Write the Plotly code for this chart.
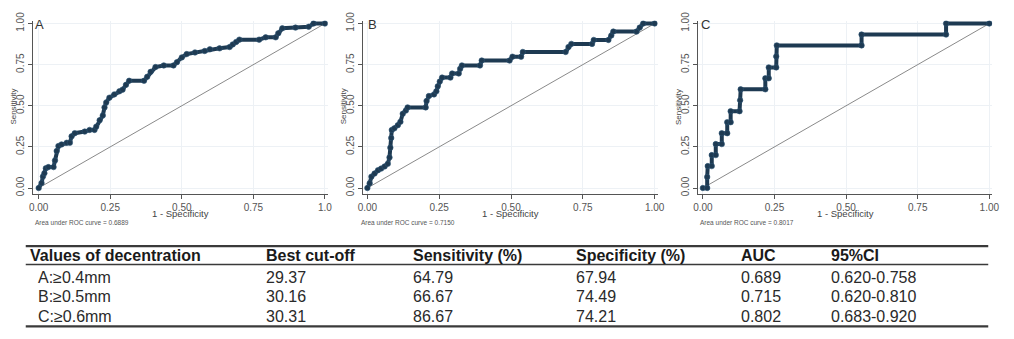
import plotly.graph_objects as go

# ---------------- data ----------------
A_fpr = [0, 0.01, 0.015, 0.02, 0.025, 0.034, 0.052, 0.057, 0.063, 0.069,
         0.08, 0.098, 0.109, 0.115, 0.126, 0.161, 0.178, 0.195, 0.201, 0.213,
         0.224, 0.23, 0.236, 0.247, 0.264, 0.282, 0.293, 0.305, 0.316, 0.368,
         0.379, 0.391, 0.408, 0.437, 0.471, 0.483, 0.5, 0.517, 0.546, 0.58,
         0.598, 0.632, 0.667, 0.678, 0.69, 0.701, 0.77, 0.793, 0.828, 0.837,
         0.851, 0.897, 0.943, 0.96, 1.0]
A_tpr = [0, 0.03, 0.07, 0.09, 0.12, 0.127, 0.127, 0.167, 0.225, 0.255,
         0.265, 0.275, 0.275, 0.314, 0.333, 0.343, 0.353, 0.353, 0.373, 0.412,
         0.441, 0.49, 0.52, 0.549, 0.569, 0.588, 0.598, 0.627, 0.652, 0.652,
         0.676, 0.706, 0.735, 0.745, 0.745, 0.765, 0.794, 0.814, 0.824, 0.833,
         0.843, 0.849, 0.857, 0.873, 0.888, 0.902, 0.902, 0.916, 0.916, 0.941,
         0.971, 0.975, 0.98, 1.0, 1.0]

B_fpr = [0, 0.008, 0.014, 0.025, 0.037, 0.048, 0.06, 0.071, 0.077, 0.08,
         0.083, 0.085, 0.094, 0.106, 0.115, 0.123, 0.134, 0.14, 0.203, 0.206,
         0.214, 0.232, 0.24, 0.245, 0.252, 0.26, 0.289, 0.295, 0.318, 0.323,
         0.329, 0.392, 0.398, 0.495, 0.505, 0.535, 0.541, 0.69, 0.7, 0.71,
         0.782, 0.788, 0.839, 0.849, 0.856, 0.937, 0.948, 0.96, 1.0]
B_tpr = [0, 0.029, 0.069, 0.088, 0.108, 0.118, 0.131, 0.147, 0.186, 0.245,
         0.304, 0.353, 0.363, 0.382, 0.402, 0.451, 0.471, 0.49, 0.49, 0.529,
         0.559, 0.569, 0.588, 0.618, 0.647, 0.671, 0.671, 0.696, 0.696, 0.725,
         0.745, 0.745, 0.775, 0.775, 0.798, 0.798, 0.827, 0.827, 0.857, 0.876,
         0.876, 0.9, 0.9, 0.927, 0.951, 0.951, 0.975, 1.0, 1.0]

C_fpr = [0, 0.015, 0.015, 0.017, 0.031, 0.031, 0.045, 0.045, 0.066, 0.066,
         0.085, 0.085, 0.097, 0.097, 0.128, 0.13, 0.132, 0.218, 0.218, 0.23,
         0.23, 0.256, 0.256, 0.258, 0.554, 0.554, 0.849, 0.849, 1.0]
C_tpr = [0, 0, 0.067, 0.133, 0.133, 0.2, 0.2, 0.267, 0.267, 0.333,
         0.333, 0.4, 0.4, 0.467, 0.467, 0.533, 0.6, 0.6, 0.667, 0.667,
         0.733, 0.733, 0.8, 0.867, 0.867, 0.933, 0.933, 1.0, 1.0]

panel_labels = ["A", "B", "C"]
auc_texts = ["0.6889", "0.7150", "0.8017"]
tick_vals = [0, 0.25, 0.5, 0.75, 1.0]
y_tick_text = ["0.00", "0.25", "0.50", "0.75", "1.00"]
x_tick_texts = [["0.00", "0.25", "0.50", "0.75", "1.0"],
                ["0.00", "0.25", "0.50", "0.75", "1.00"],
                ["0.00", "0.25", "0.50", "0.75", "1.00"]]

table_header = ["Values of decentration", "Best cut-off", "Sensitivity (%)",
                "Specificity (%)", "AUC", "95%CI"]
table_rows = [
    ["A:\u22650.4mm", "29.37", "64.79", "67.94", "0.689", "0.620-0.758"],
    ["B:\u22650.5mm", "30.16", "66.67", "74.49", "0.715", "0.620-0.810"],
    ["C:\u22650.6mm", "30.31", "86.67", "74.21", "0.802", "0.683-0.920"],
]

# ---------------- layout geometry (pixels) ----------------
W, H = 1014, 339
FONT = "Liberation Sans, Arial, sans-serif"
NAVY = "#1e3a52"


def px(x):
    return x / W


def py(y):
    return 1 - y / H


panels = [
    dict(x_fpr=A_fpr, y_tpr=A_tpr, left=27, right=326, xr=[-0.021, 1.01],
         ylab_x=8, lab_x=27, auc_x=27),
    dict(x_fpr=B_fpr, y_tpr=B_tpr, left=362, right=660, xr=[-0.014, 1.01],
         ylab_x=342, lab_x=365, auc_x=358),
    dict(x_fpr=C_fpr, y_tpr=C_tpr, left=701, right=999, xr=[-0.017, 1.01],
         ylab_x=681, lab_x=702, auc_x=701),
]
top_px, bottom_px = 12, 191
yr = [-0.0353, 1.0176]

fig = go.Figure()
annotations = []
shapes = []

for i, p in enumerate(panels):
    n = "" if i == 0 else str(i + 1)
    xa, ya = "x" + n, "y" + n
    fig.add_trace(go.Scatter(
        x=[0, 1], y=[0, 1], mode="lines", xaxis=xa, yaxis=ya,
        line=dict(color="#8a8a8a", width=1), hoverinfo="skip", showlegend=False))
    fig.add_trace(go.Scatter(
        x=p["x_fpr"], y=p["y_tpr"], mode="lines+markers", xaxis=xa, yaxis=ya,
        line=dict(color=NAVY, width=4),
        marker=dict(color=NAVY, size=5.5, line=dict(color="#2d5575", width=0.6)),
        showlegend=False))
    axis_common = dict(
        showline=True, linecolor="#555555", linewidth=1, ticks="outside",
        ticklen=4, tickcolor="#555555", tickvals=tick_vals, zeroline=False,
        showgrid=True, gridcolor="#edf1f5", gridwidth=1,
        tickfont=dict(family=FONT, size=10, color="#555555"))
    fig.layout["xaxis" + n] = dict(
        axis_common, domain=[px(p["left"]), px(p["right"])], range=p["xr"],
        ticktext=x_tick_texts[i], anchor=ya)
    fig.layout["yaxis" + n] = dict(
        axis_common, domain=[py(bottom_px), py(top_px)], range=yr,
        ticktext=y_tick_text, tickangle=-90, anchor=xa)

    cx = (p["left"] + p["right"]) / 2
    annotations += [
        dict(text="Sensitivity", x=px(p["ylab_x"]), y=py(101), xref="paper",
             yref="paper", textangle=-90, showarrow=False,
             font=dict(family=FONT, size=8, color="#444444"),
             xanchor="center", yanchor="middle"),
        dict(text="1 - Specificity", x=px(cx), y=py(211), xref="paper",
             yref="paper", showarrow=False,
             font=dict(family=FONT, size=9.5, color="#444444"),
             xanchor="center", yanchor="middle"),
        dict(text="Area under ROC curve = " + auc_texts[i], x=px(p["auc_x"]),
             y=py(221), xref="paper", yref="paper", showarrow=False,
             font=dict(family=FONT, size=6.5, color="#555555"),
             xanchor="left", yanchor="middle"),
        dict(text=panel_labels[i], x=px(p["lab_x"]), y=py(16), xref="paper",
             yref="paper", showarrow=False,
             font=dict(family=FONT, size=13, color="#333333"),
             xanchor="left", yanchor="middle"),
    ]

# ---------------- table ----------------
col_x = [22, 261, 410, 575, 743, 834]
row_x0 = 30
header_y = 255
row_ys = [277, 297, 318]

for j, h in enumerate(table_header):
    annotations.append(dict(
        text="<b>" + h + "</b>", x=px(col_x[j]), y=py(header_y), xref="paper",
        yref="paper", showarrow=False, xanchor="left", yanchor="middle",
        font=dict(family=FONT, size=16, color="#1a1a1a")))
for r, row in enumerate(table_rows):
    for j, v in enumerate(row):
        x0 = row_x0 if j == 0 else col_x[j]
        annotations.append(dict(
            text=v, x=px(x0), y=py(row_ys[r]), xref="paper", yref="paper",
            showarrow=False, xanchor="left", yanchor="middle",
            font=dict(family=FONT, size=16, color="#2a2a2a")))

for yline, w in [(245, 2.2), (264, 1.5), (328, 2.2)]:
    shapes.append(dict(type="line", xref="paper", yref="paper",
                       x0=px(20), x1=px(995), y0=py(yline), y1=py(yline),
                       line=dict(color="#3a3a3a", width=w)))

fig.update_layout(
    width=W, height=H, margin=dict(l=0, r=0, t=0, b=0),
    paper_bgcolor="white", plot_bgcolor="white",
    annotations=annotations, shapes=shapes, showlegend=False,
    font=dict(family=FONT),
)

fig.write_html("out.html")
